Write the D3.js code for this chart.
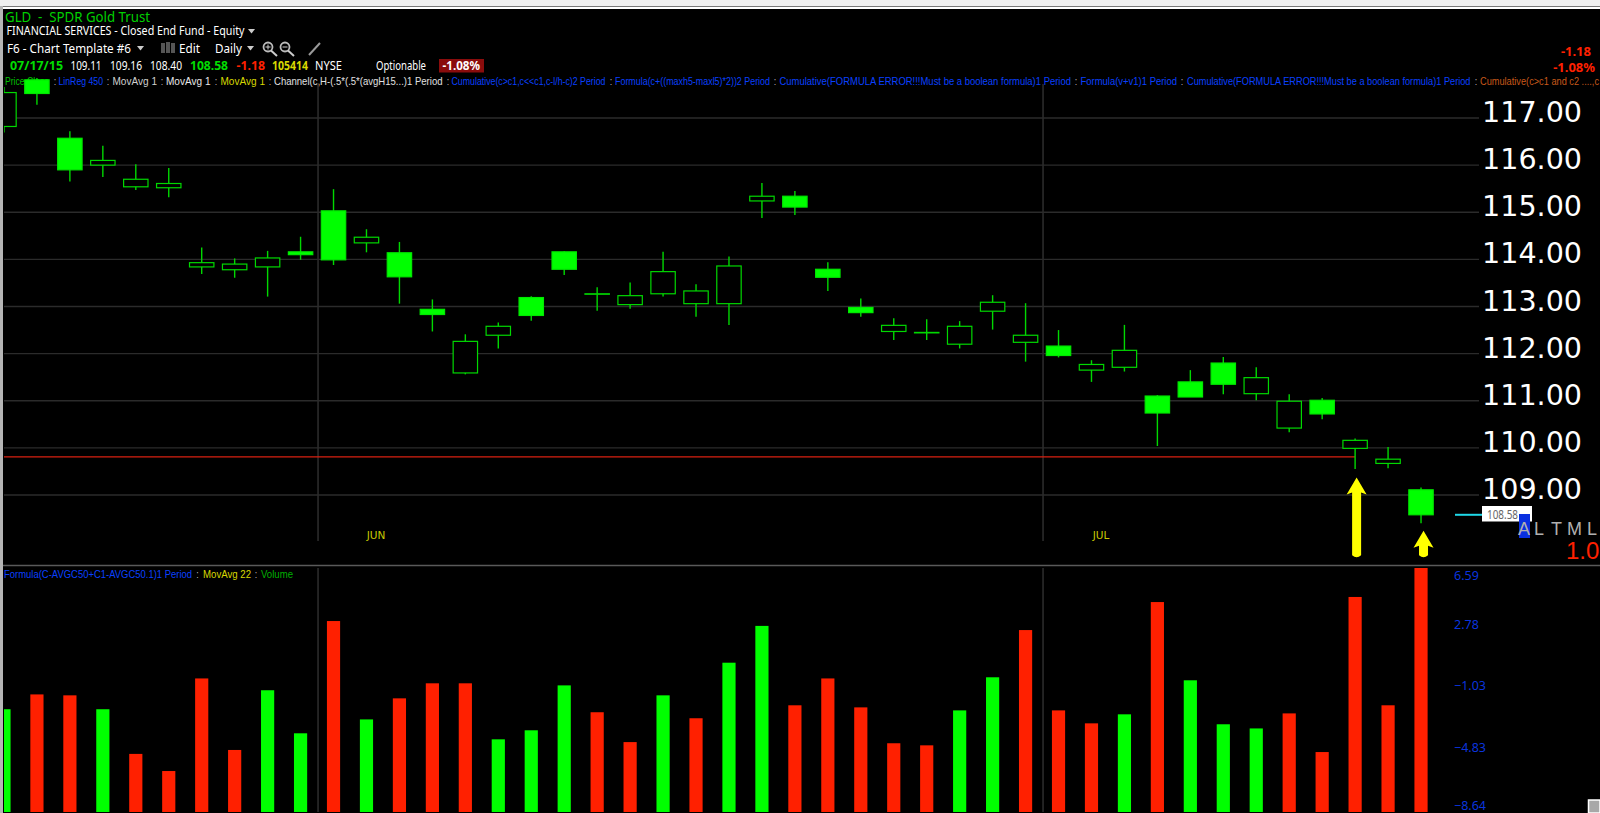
<!DOCTYPE html>
<html><head><meta charset="utf-8">
<script src="https://cdn.jsdelivr.net/npm/d3@7"></script>
<style>html,body{margin:0;padding:0;background:#000;overflow:hidden}svg{display:block}</style>
</head><body><svg id="c" width="1600" height="813"></svg>
<script>
const dates=["2015-05-15","2015-05-18","2015-05-19","2015-05-20","2015-05-21","2015-05-22","2015-05-26","2015-05-27","2015-05-28","2015-05-29",
"2015-06-01","2015-06-02","2015-06-03","2015-06-04","2015-06-05","2015-06-08","2015-06-09","2015-06-10","2015-06-11","2015-06-12","2015-06-15","2015-06-16","2015-06-17","2015-06-18","2015-06-19","2015-06-22","2015-06-23","2015-06-24","2015-06-25","2015-06-26","2015-06-29","2015-06-30",
"2015-07-01","2015-07-02","2015-07-06","2015-07-07","2015-07-08","2015-07-09","2015-07-10","2015-07-13","2015-07-14","2015-07-15","2015-07-16","2015-07-17"];
const opens=[116.82,117.81,116.57,116.00,115.54,115.52,113.84,113.78,113.84,114.16,115.03,114.35,114.14,112.94,111.59,112.39,113.19,114.16,113.26,113.04,113.27,113.06,113.06,115.24,115.34,113.79,112.98,112.47,112.44,112.20,112.90,112.24,112.16,111.65,111.71,111.10,111.40,111.80,111.15,110.42,111.01,109.99,109.67,109.11];
const highs=[117.66,117.85,116.72,116.41,116.02,115.94,114.25,114.02,114.18,114.48,115.49,114.64,114.37,113.15,112.41,112.66,113.22,114.17,113.41,113.51,114.16,113.47,114.06,115.62,115.45,113.94,113.17,112.75,112.73,112.69,113.24,113.07,112.50,111.86,112.61,111.12,111.65,111.93,111.71,111.14,111.06,110.20,110.02,109.16];
const lows=[116.69,117.28,115.65,115.75,115.47,115.32,113.69,113.61,113.21,113.99,113.88,114.15,113.06,112.47,111.56,112.11,112.70,113.67,112.91,112.95,113.21,112.78,112.61,114.88,114.94,113.33,112.78,112.29,112.29,112.11,112.51,111.83,111.92,111.40,111.62,110.04,111.08,111.14,111.01,110.33,110.61,109.55,109.57,108.40];
const closes=[117.54,117.52,115.90,116.10,115.70,115.61,113.93,113.90,114.03,114.10,113.99,114.47,113.63,112.83,112.26,112.58,112.81,113.79,113.27,113.23,113.74,113.33,113.86,115.34,115.11,113.62,112.87,112.60,112.45,112.58,113.09,112.39,111.96,111.77,112.07,110.74,111.08,111.35,111.49,110.99,110.72,110.16,109.76,108.58];
const volumes=[44400,50800,50400,44400,25100,17700,57700,26800,52600,34000,82500,40000,49100,55600,55600,31400,35300,54700,43100,30200,50400,40500,64500,80400,46100,57700,45200,29700,28800,43900,58200,78600,43900,38300,42200,90700,56900,37900,36100,42600,25900,92900,46100,105414];
const volumeDirs=["g","r","r","g","r","r","r","r","g","g","r","g","r","r","r","g","g","g","r","r","g","r","g","g","r","r","r","r","r","g","g","r","r","r","g","r","g","g","g","r","r","r","r","r"];
const priceTicks=[117,116,115,114,113,112,111,110,109];
const formulaTicks=[6.59,2.78,-1.03,-4.83,-8.64];
const monthStarts=["2015-06-01","2015-07-01"];
const monthNames=["JUN","JUL"];
const supportLevel=[109.81];
const arrowDates=["2015-07-15","2015-07-17"];
const arrowTips=[109.37,108.24];
const arrowTails=[107.68,107.68];

const svg=d3.select("#c");
const x=d3.scaleBand().domain(dates).range([-12.5,1437.5]);
const y=d3.scaleLinear().domain([109,117]).range([495,118]);
const v=d3.scaleLinear().domain([0,105414]).range([812,568]);
const f=d3.scaleLinear().domain(formulaTicks).range([575.7,624.7,685,747,805]);
const cx=d=>x(d)+x.bandwidth()/2;
const UI="'Noto Sans',sans-serif";
const LEG="'Liberation Sans',sans-serif";

svg.append("rect").attr("width",1600).attr("height",813).attr("fill","#000");
// window chrome
svg.append("rect").attr("width",1600).attr("height",6).attr("fill","#efefef");
svg.append("rect").attr("y",6).attr("width",1600).attr("height",1).attr("fill","#777");
svg.append("rect").attr("y",7).attr("width",1600).attr("height",2).attr("fill","#fff");
svg.append("rect").attr("y",6).attr("width",3).attr("height",807).attr("fill","#b5b5b5");
svg.append("rect").attr("x",1588.5).attr("y",800).attr("width",11.5).attr("height",13).attr("fill","#a8a8a8").attr("stroke","#fff").attr("stroke-width",1.5);

function label(t,x0,yc,opt={}){
  const s=svg.append("text").text(t).attr("x",x0).attr("y",yc).attr("dominant-baseline","central")
   .attr("font-family",opt.font||UI).attr("font-size",opt.size||12).attr("fill",opt.fill||"#fff")
   .attr("font-weight",opt.bold?700:400).attr("text-anchor",opt.anchor||"start");
  if(opt.w) s.attr("textLength",opt.w).attr("lengthAdjust","spacingAndGlyphs");
  return s;
}
const tri=(x0,yc,w,c)=>svg.append("path").attr("d",`M${x0},${yc-2}h${w}l${-w/2},${w/2+1}z`).attr("fill",c);

// header
label("GLD\u00a0\u00a0-\u00a0\u00a0SPDR Gold Trust",5,15.5,{size:15,fill:"#00d000",w:145});
label("FINANCIAL SERVICES - Closed End Fund - Equity",6.5,30.5,{size:12.5,w:238});
tri(248,31,7,"#ccc");
label("F6 - Chart Template #6",7,48,{size:12.5,w:124});
tri(137,48,7,"#ccc");
[0,5,10].forEach((d,i)=>svg.append("rect").attr("x",161+d).attr("y",43-(i==1?1:0)).attr("width",4).attr("height",10+(i==1?1:0)).attr("fill","#555"));
label("Edit",179,48,{size:12.5,w:21});
label("Daily",215,48,{size:12.5,w:27});
tri(247,48,7,"#ccc");
[268,285].forEach((mx,i)=>{
  svg.append("circle").attr("cx",mx).attr("cy",47).attr("r",4.5).attr("fill","none").attr("stroke","#bbb").attr("stroke-width",1.8);
  svg.append("line").attr("x1",mx+3).attr("y1",50.5).attr("x2",mx+9).attr("y2",56).attr("stroke","#ccc").attr("stroke-width",2);
  svg.append("line").attr("x1",mx-2.5).attr("y1",47).attr("x2",mx+2.5).attr("y2",47).attr("stroke","#ccc");
  if(i==0) svg.append("line").attr("x1",mx).attr("y1",44.5).attr("x2",mx).attr("y2",49.5).attr("stroke","#ccc");
});
svg.append("line").attr("x1",320).attr("y1",43).attr("x2",309).attr("y2",55).attr("stroke","#999").attr("stroke-width",2);

label("07/17/15",10,65.5,{size:12.5,bold:true,fill:"#00dd00",w:53});
label("109.11",70.5,65.5,{size:12,w:31});
label("109.16",110,65.5,{size:12,w:32});
label("108.40",150,65.5,{size:12,w:32});
label("108.58",190,65.5,{size:12.5,bold:true,fill:"#00dd00",w:38});
label("-1.18",236.5,65.5,{size:12.5,bold:true,fill:"#ff2000",w:28.5});
label("105414",272,65.5,{size:12.5,bold:true,fill:"#d8d800",w:36});
label("NYSE",315,65.5,{size:12,w:27});
label("Optionable",376,65.5,{size:12,w:50});
svg.append("rect").attr("x",439).attr("y",59).attr("width",45).attr("height",13.5).attr("fill","#8a0c0c");
label("-1.08%",442.5,65.5,{size:12,bold:true,w:37.5});
label("-1.18",1591,51,{size:13,bold:true,fill:"#ff2000",anchor:"end"});
label("-1.08%",1595,66.5,{size:13,bold:true,fill:"#ff2000",anchor:"end"});

// study legend
const BL="#0a40ff";
[["Price Close",5,44,"#00c000"],[":",54,2,"#ddd"],["LinReg 450",58.5,44.5,BL],[":",107,2,"#ddd"],["MovAvg 1",112.5,44.5,"#d0d0d0"],[":",161,2,"#ddd"],["MovAvg 1",166,44.5,"#e8e8e8"],[":",215,2,"#ddd"],["MovAvg 1",220.5,44.5,"#d8d800"],[":",269,2,"#ddd"],
 ["Channel(c,H-(.5*(.5*(avgH15...)1 Period",274,168.5,"#e0e0e0"],[":",447,2,"#ddd"],["Cumulative(c>c1,c<<c1,c-l/h-c)2 Period",451.5,154,BL],[":",610,2,"#ddd"],
 ["Formula(c+((maxh5-maxl5)*2))2 Period",615,155,BL],[":",774,2,"#ddd"],["Cumulative(FORMULA ERROR!!!Must be a boolean formula)1 Period",779.5,291.5,BL],[":",1075,2,"#ddd"],
 ["Formula(v+v1)1 Period",1080.5,96.5,BL],[":",1181,2,"#ddd"],["Cumulative(FORMULA ERROR!!!Must be a boolean formula)1 Period",1187,283.5,BL],[":",1475,2,"#ddd"],["Cumulative(c>c1 and c2 ....,c",1480,119,"#c8591a"]]
 .forEach(s=>label(s[0],s[1],81,{size:10.5,font:LEG,fill:s[3],w:s[2]}));

// panels
const clip=svg.append("defs").append("clipPath").attr("id","pane");
clip.append("rect").attr("x",4).attr("y",9).attr("width",1596).attr("height",804);
const pane=svg.append("g").attr("clip-path","url(#pane)");

// month grid
monthStarts.forEach(m=>{
  const gx=x(m)+1;
  [[84,541],[568,812]].forEach(r=>pane.append("line").attr("x1",gx).attr("x2",gx).attr("y1",r[0]).attr("y2",r[1]).attr("stroke","#2e2e2e").attr("stroke-width",1.5));
});
monthNames.forEach((n,i)=>label(n,x(monthStarts[i])+59,534.5,{size:10.5,fill:"#c8c800",anchor:"middle",font:"'DejaVu Sans',sans-serif"}));

// price axis & grid
const ax=svg.append("g").attr("transform","translate(1479,0)").call(d3.axisRight(y).tickValues(priceTicks).tickSize(0).tickFormat(d3.format(".2f")));
ax.select(".domain").remove();
ax.selectAll("text").attr("x",3).attr("dy",0).attr("y",3.5).attr("dominant-baseline","auto").attr("font-family","'DejaVu Sans',sans-serif").attr("font-size",28.6).attr("fill","#fff");
pane.selectAll("line.grid").data(priceTicks).join("line").attr("class","grid").attr("x1",4).attr("x2",1479)
  .attr("y1",d=>y(d)).attr("y2",d=>y(d)).attr("stroke","#2b2b2b").attr("stroke-width",1.4);

// separator & reference
svg.append("line").attr("x1",3).attr("x2",1600).attr("y1",565.5).attr("y2",565.5).attr("stroke","#5a5a5a").attr("stroke-width",1.5);
pane.selectAll("line.ref").data(supportLevel).join("line").attr("class","ref").attr("x1",4).attr("x2",cx("2015-07-15"))
  .attr("y1",d=>y(d)).attr("y2",d=>y(d)).attr("stroke","#d82010").attr("stroke-width",1.4);

// candles
const GW="#00d800",bw=x.bandwidth()*0.74;
const g=pane.selectAll("g.candle").data(dates).join("g").attr("class","candle");
g.append("line").attr("x1",d=>cx(d)).attr("x2",d=>cx(d))
  .attr("y1",(d,i)=>y(highs[i])).attr("y2",(d,i)=>y(lows[i])).attr("stroke",GW).attr("stroke-width",1.4);
g.append("rect").attr("x",d=>cx(d)-bw/2).attr("width",bw)
  .attr("y",(d,i)=>y(Math.max(opens[i],closes[i])))
  .attr("height",(d,i)=>Math.abs(y(opens[i])-y(closes[i])))
  .attr("fill",(d,i)=>closes[i]<opens[i]?"#00ff00":"#000")
  .attr("stroke",(d,i)=>closes[i]<opens[i]?"#00e800":"#00d800").attr("stroke-width",1.2);

// last price marker
const last=closes[closes.length-1];
svg.append("line").attr("x1",1455).attr("x2",1484).attr("y1",y(last)).attr("y2",y(last)).attr("stroke","#1fd8e8").attr("stroke-width",2);
svg.append("rect").attr("x",1482).attr("y",506).attr("width",50).attr("height",15.5).attr("fill","#fff");
label(d3.format(".2f")(last),1487,514,{size:12,fill:"#666",w:31});
svg.append("rect").attr("x",1519).attr("y",514).attr("width",11).attr("height",24).attr("fill","#0a30e0");
[["A",1518],["L",1534],["T",1551],["M",1567],["L",1587]].forEach(s=>label(s[0],s[1],528.5,{size:18,fill:"#b0b0b0",font:LEG}));
label("1.0",1566,550,{size:24,fill:"#ff2000",font:LEG});

// arrows
svg.selectAll("path.arrow").data(arrowDates).join("path").attr("class","arrow")
  .attr("d",(d,i)=>{const X=cx(d)+(i?2.5:1.5),t=y(arrowTips[i]),b=y(arrowTails[i])-1,h=t+17;
    return `M${X},${t}L${X+10},${h}L${X+4.5},${h-2}L${X+4.5},${b-1}Q${X},${b+3} ${X-4.5},${b-1}L${X-4.5},${h-2}L${X-10},${h}Z`;})
  .attr("fill","#ffff00");

// lower panel
label("Formula(C-AVGC50+C1-AVGC50.1)1 Period",4,574,{size:10.5,font:LEG,fill:BL,w:188});
label(":",196.5,574,{size:10.5,font:LEG,fill:"#ddd",w:2});
label("MovAvg 22",203,574,{size:10.5,font:LEG,fill:"#d8d800",w:48});
label(":",255,574,{size:10.5,font:LEG,fill:"#ddd",w:2});
label("Volume",261,574,{size:10.5,font:LEG,fill:"#00b000",w:32});
const vw=x.bandwidth()*0.4;
pane.selectAll("rect.vol").data(dates).join("rect").attr("class","vol")
  .attr("x",d=>cx(d)-vw/2).attr("width",vw)
  .attr("y",(d,i)=>v(volumes[i])).attr("height",(d,i)=>v(0)-v(volumes[i]))
  .attr("fill",(d,i)=>volumeDirs[i]=="g"?"#00ff00":"#ff2000");
const ax2=svg.append("g").attr("transform","translate(1454,0)").call(d3.axisRight(f).tickValues(formulaTicks).tickSize(0).tickFormat(d3.format(".2f")));
ax2.select(".domain").remove();
ax2.selectAll("text").attr("x",0).attr("font-family",UI).attr("font-size",12.5).attr("fill","#0a34dd");
</script></body></html>
